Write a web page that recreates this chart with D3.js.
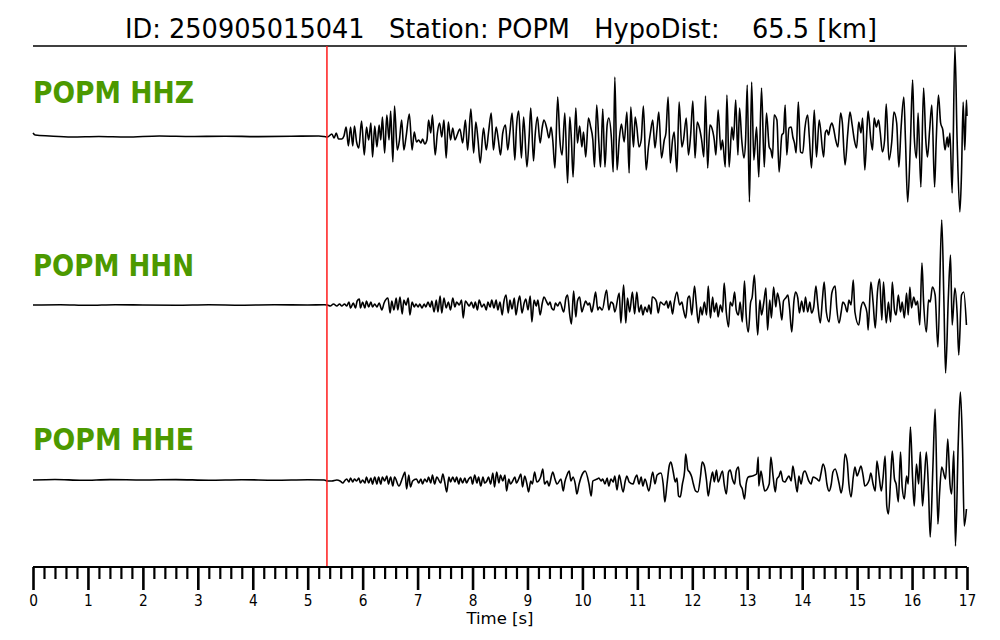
<!DOCTYPE html>
<html><head><meta charset="utf-8">
<script src="https://cdn.jsdelivr.net/npm/d3@7"></script>
<style>body{margin:0;background:#fff}svg{display:block}text{font-family:"DejaVu Sans",sans-serif}</style>
</head><body>
<svg id="c" width="1000" height="640"></svg>
<script>
// ---------- data ----------
const title = "ID: 250905015041   Station: POPM   HypoDist:    65.5 [km]";
const channels = ["POPM HHZ", "POPM HHN", "POPM HHE"];
const pickTime = 5.35;               // P-arrival marker [s]
const timeDomain = [0, 17];
const majorTicks = [0,1,2,3,4,5,6,7,8,9,10,11,12,13,14,15,16,17];
const tickLabels = ["0","1","2","3","4","5","6","7","8","9","10","11","12","13","14","15","16","17"];
const minorStep = 0.2;
const xLabel = "Time [s]";

// [time s, relative amplitude] extrema
const hhz = [[0,3],[0.04,1],[0.3,0],[0.7,-1],[1.2,-0.5],[1.7,-1],[2.3,0],[2.9,-0.5],[3.5,-0.2],[4.1,-0.6],[4.7,-0.3],[5.2,0],[5.3,-0.5],
[5.36,-1],[5.44,2],[5.48,-2],[5.52,3],[5.56,-3],[5.62,-3],[5.66,0],[5.70,9],[5.74,-10],[5.78,9],[5.82,-10],[5.85,10],[5.89,-6],[5.93,-12],[5.98,15],[6.03,-19],[6.07,9],[6.11,-4],[6.15,13],[6.18,-21],[6.22,10],[6.26,-11],[6.30,11],[6.33,-4],[6.36,19],[6.40,-17],[6.44,21],[6.48,-4],[6.51,25],[6.55,-26],[6.58,30],[6.63,-14],[6.67,-4],[6.71,16],[6.75,-14],[6.79,-1],[6.85,22],[6.90,-14],[6.94,4],[6.98,-6],[7.02,-4],[7.06,-7],[7.09,-3],[7.13,-8],[7.17,-4],[7.20,16],[7.24,3],[7.27,21],[7.32,-19],[7.36,3],[7.40,13],[7.44,-1],[7.48,16],[7.52,-22],[7.56,14],[7.60,-4],[7.64,8],[7.68,-4],[7.72,1],[7.77,7],[7.82,-7],[7.87,16],[7.91,-14],[7.97,27],[8.02,-17],[8.06,14],[8.10,-4],[8.14,-27],[8.20,8],[8.25,-14],[8.29,3],[8.34,23],[8.38,-14],[8.43,9],[8.47,-4],[8.51,-19],[8.55,3],[8.60,11],[8.64,-14],[8.68,4],[8.72,23],[8.77,-24],[8.80,9],[8.84,25],[8.89,-22],[8.93,19],[8.99,-31],[9.03,-1],[9.06,28],[9.11,-25],[9.14,1],[9.18,19],[9.23,-7],[9.27,9],[9.30,16],
[9.35,8],[9.39,-2],[9.43,9],[9.46,-4],[9.50,-32],[9.55,39],[9.59,-4],[9.63,-19],[9.68,23],[9.73,-47],[9.77,19],[9.80,-4],[9.83,-41],[9.88,28],[9.91,-7],[9.95,10],[9.99,-11],[10.02,4],[10.06,-21],[10.11,18],[10.15,9],[10.19,-4],[10.22,-31],[10.26,31],[10.30,-7],[10.33,-31],[10.37,27],[10.41,-31],[10.45,11],[10.48,18],[10.53,-4],[10.56,-36],[10.59,59],[10.63,-34],[10.67,-4],[10.71,12],[10.76,-6],[10.81,24],[10.85,-37],[10.88,29],[10.93,-11],[10.96,19],[10.99,9],[11.03,-11],[11.07,-4],[11.11,30],[11.16,-34],[11.20,-12],[11.24,4],[11.28,16],[11.32,-12],[11.36,8],[11.39,24],[11.44,-22],[11.49,-4],[11.52,3],[11.56,39],[11.60,-27],[11.64,-4],[11.67,4],[11.72,-36],[11.76,34],[11.81,-11],[11.84,-4],[11.89,18],[11.93,-19],[11.97,1],[12.01,35],[12.05,-22],[12.09,14],[12.13,8],[12.17,-4],[12.21,-21],[12.24,40],[12.28,-32],[12.32,11],[12.35,9],[12.40,-4],[12.43,-19],[12.47,26],[12.52,-14],[12.55,-4],[12.60,-31],[12.63,41],[12.67,-31],[12.72,9],[12.75,-4],[12.79,36],[12.83,-19],[12.86,28],[12.90,-4],[12.94,-22],[12.97,-4],[13.00,51],[13.04,-66],[13.08,54],[13.12,-24],
[13.17,9],[13.21,-41],[13.26,48],[13.31,-31],[13.35,23],[13.40,-11],[13.43,-14],[13.46,-22],[13.49,21],[13.54,16],[13.58,-36],[13.63,1],[13.66,3],[13.69,31],[13.72,-19],[13.76,8],[13.80,9],[13.83,-1],[13.86,-7],[13.89,-17],[13.93,34],[13.97,-16],[14.01,-17],[14.05,8],[14.10,21],[14.13,-1],[14.17,-32],[14.22,26],[14.26,-21],[14.31,16],[14.39,-21],[14.42,3],[14.45,6],[14.48,1],[14.51,9],[14.54,13],[14.57,8],[14.61,-4],[14.65,-11],[14.70,23],[14.73,14],[14.78,-29],[14.83,3],[14.87,24],[14.91,11],[14.95,-4],[14.99,-12],[15.03,14],[15.07,3],[15.10,18],[15.14,-34],[15.18,8],[15.20,25],[15.25,-4],[15.28,-14],[15.31,18],[15.35,9],[15.39,16],[15.42,4],[15.46,-16],[15.50,-4],[15.53,32],[15.58,-24],[15.63,-6],[15.67,24],[15.72,13],[15.76,-31],[15.80,8],[15.85,39],[15.88,-4],[15.92,-66],[15.97,-7],[16.01,56],[16.04,-1],[16.08,-22],[16.11,23],[16.16,-51],[16.21,48],[16.25,-4],[16.28,-21],[16.32,6],[16.36,31],[16.41,-51],[16.44,-4],[16.48,41],[16.52,13],[16.56,6],[16.60,-14],[16.64,-1],[16.66,-11],[16.69,3],[16.73,-57],[16.78,89],[16.82,-4],[16.87,-76],[16.90,-37],[16.93,34],[16.96,-14],[16.99,36],[17.00,20]];

const hhn = [[0,0],[0.5,0.3],[1.0,-0.3],[1.5,0.3],[2.0,0],[2.6,-0.3],[3.2,0.2],[3.8,-0.2],[4.4,0.2],[5.0,0],[5.3,0.3],
[5.36,0],[5.41,-1],[5.47,1],[5.53,-1],[5.58,1],[5.62,-1],[5.67,1],[5.71,-1],[5.75,3],[5.78,-3],[5.83,2],[5.87,-3],[5.90,4],[5.94,6],[5.96,-3],[6.00,3],[6.04,-3],[6.07,4],[6.11,-2],[6.15,3],[6.18,-2],[6.22,1],[6.26,-2],[6.30,2],[6.35,-5],[6.39,2],[6.46,7],[6.50,-8],[6.53,4],[6.57,-5],[6.61,7],[6.64,-5],[6.68,8],[6.72,-9],[6.75,5],[6.79,0],[6.83,7],[6.86,-10],[6.90,3],[6.94,-2],[6.97,1],[7.01,-2],[7.04,1],[7.08,-3],[7.12,1],[7.15,-2],[7.19,3],[7.23,-2],[7.26,4],[7.30,-7],[7.34,5],[7.37,-7],[7.41,9],[7.44,-8],[7.48,7],[7.52,-3],[7.56,3],[7.60,-5],[7.64,7],[7.68,-2],[7.71,3],[7.76,0],[7.80,5],[7.83,-13],[7.87,4],[7.91,1],[7.94,-1],[7.98,3],[8.02,-3],[8.05,3],[8.09,-5],[8.12,5],[8.17,-2],[8.21,1],[8.25,-5],[8.28,3],[8.32,-2],[8.35,5],[8.39,-3],[8.43,5],[8.46,-5],[8.50,3],[8.54,-10],[8.57,3],[8.61,10],[8.65,-8],[8.68,5],[8.72,-4],[8.76,7],[8.79,-10],[8.83,3],[8.86,9],[8.90,-8],[8.94,2],[8.97,6],[9.01,-5],[9.05,9],[9.08,-17],[9.12,5],[9.16,-1],[9.19,5],[9.23,-10],[9.27,2],[9.30,8],
[9.35,3],[9.38,0],[9.41,3],[9.44,-3],[9.48,-5],[9.51,2],[9.55,-1],[9.59,3],[9.66,-7],[9.70,7],[9.73,10],[9.77,-10],[9.80,-19],[9.84,14],[9.88,-12],[9.91,4],[9.95,8],[9.99,-7],[10.02,-2],[10.06,4],[10.10,0],[10.13,2],[10.17,-7],[10.20,0],[10.24,13],[10.28,-5],[10.31,-2],[10.36,-5],[10.44,15],[10.48,-5],[10.52,3],[10.56,1],[10.59,-7],[10.67,12],[10.70,-18],[10.75,20],[10.79,-18],[10.82,7],[10.86,-7],[10.91,13],[10.95,-9],[10.99,13],[11.03,-7],[11.07,0],[11.10,-10],[11.14,-2],[11.18,-7],[11.21,0],[11.25,-9],[11.27,8],[11.31,7],[11.35,3],[11.38,-8],[11.42,3],[11.49,0],[11.53,4],[11.56,-3],[11.60,4],[11.64,-9],[11.67,2],[11.72,13],[11.77,0],[11.81,3],[11.84,-5],[11.88,-13],[11.92,7],[11.95,9],[11.99,-10],[12.04,19],[12.07,3],[12.11,-18],[12.15,-2],[12.18,-10],[12.22,3],[12.26,-10],[12.29,19],[12.33,-13],[12.37,8],[12.40,-7],[12.44,2],[12.47,-12],[12.51,0],[12.55,-7],[12.58,22],[12.62,-8],[12.66,-22],[12.69,3],[12.73,-1],[12.77,13],[12.80,-5],[12.84,-10],[12.87,3],[12.91,-17],[12.95,24],[12.98,-10],[13.02,-27],[13.06,2],[13.09,8],[13.13,30],
[13.19,-30],[13.23,5],[13.26,-10],[13.30,2],[13.34,17],[13.37,-25],[13.41,5],[13.44,-13],[13.48,18],[13.52,-2],[13.55,12],[13.59,2],[13.63,-15],[13.66,4],[13.70,7],[13.74,10],[13.77,-3],[13.81,-27],[13.85,4],[13.88,13],[13.92,7],[13.95,-8],[13.99,4],[14.03,-7],[14.06,8],[14.10,-7],[14.14,3],[14.17,-8],[14.21,-2],[14.25,19],[14.28,3],[14.33,-18],[14.37,7],[14.40,23],[14.44,-7],[14.49,-17],[14.54,12],[14.60,19],[14.63,-3],[14.67,-18],[14.71,-7],[14.74,3],[14.78,0],[14.82,-7],[14.85,5],[14.89,0],[14.93,25],[14.96,-7],[15.03,-20],[15.07,-3],[15.11,3],[15.14,0],[15.18,-8],[15.20,-25],[15.25,23],[15.29,3],[15.33,-23],[15.37,13],[15.41,26],[15.45,-15],[15.48,23],[15.53,-18],[15.57,3],[15.61,-17],[15.64,23],[15.68,-5],[15.71,-10],[15.75,10],[15.79,-7],[15.82,3],[15.86,-13],[15.90,12],[15.93,-10],[15.96,18],[15.99,-3],[16.03,8],[16.07,0],[16.10,4],[16.14,-20],[16.18,42],[16.21,3],[16.26,-27],[16.30,5],[16.33,3],[16.37,18],[16.42,10],[16.47,-42],[16.54,85],[16.58,3],[16.61,-68],[16.66,7],[16.70,50],[16.73,-20],[16.78,17],[16.82,-8],[16.85,-50],[16.90,10],[16.94,13],[16.99,-20]];

const hhe = [[0,0],[0.4,0.5],[0.9,-0.3],[1.4,0.4],[2.0,0],[2.6,0.4],[3.2,-0.2],[3.8,0.3],[4.4,-0.2],[5.0,0.3],[5.3,0],
[5.36,-1],[5.44,-1],[5.53,0],[5.59,-1],[5.64,-3],[5.67,-1],[5.71,1],[5.75,-2],[5.78,2],[5.82,-2],[5.85,1],[5.89,-1],[5.93,2],[5.96,-3],[6.00,0],[6.04,-3],[6.07,3],[6.11,-3],[6.15,2],[6.18,-4],[6.22,3],[6.26,-4],[6.29,3],[6.33,-4],[6.36,3],[6.40,-1],[6.44,4],[6.47,-4],[6.51,3],[6.55,-6],[6.58,3],[6.66,-6],[6.73,3],[6.77,8],[6.80,-9],[6.84,5],[6.87,-7],[6.91,-1],[6.98,1],[7.02,-3],[7.06,1],[7.09,-4],[7.13,1],[7.17,-2],[7.20,3],[7.24,-3],[7.27,5],[7.31,-4],[7.35,3],[7.42,-3],[7.46,6],[7.49,-1],[7.53,-12],[7.57,3],[7.60,-2],[7.64,3],[7.68,-2],[7.71,3],[7.75,-4],[7.78,2],[7.82,-3],[7.86,2],[7.89,-3],[7.93,1],[7.97,3],[8.00,-4],[8.04,5],[8.08,-3],[8.11,3],[8.15,-6],[8.19,3],[8.22,-3],[8.26,-1],[8.29,3],[8.33,-4],[8.37,7],[8.40,-7],[8.44,8],[8.48,-3],[8.51,5],[8.55,-1],[8.59,5],[8.62,-11],[8.66,1],[8.69,-4],[8.73,-1],[8.77,3],[8.80,-3],[8.84,1],[8.88,6],[8.91,-7],[8.95,4],[8.99,-4],[9.02,-12],[9.06,-1],[9.09,-4],[9.13,8],[9.17,-2],[9.24,3],[9.28,11],[9.31,-4],
[9.36,-1],[9.39,-6],[9.46,8],[9.50,1],[9.54,-4],[9.61,1],[9.65,-11],[9.68,-2],[9.72,5],[9.76,9],[9.79,-1],[9.83,3],[9.87,-4],[9.90,-14],[9.94,-4],[10.01,7],[10.05,9],[10.12,-4],[10.16,-16],[10.19,-1],[10.27,1],[10.30,2],[10.34,-1],[10.37,1],[10.41,-4],[10.45,2],[10.48,-6],[10.52,1],[10.56,-2],[10.59,4],[10.63,-10],[10.67,5],[10.74,-12],[10.78,-1],[10.81,4],[10.85,-2],[10.92,-4],[10.96,2],[10.99,5],[11.03,-4],[11.07,3],[11.10,-6],[11.14,1],[11.21,-11],[11.28,8],[11.32,-4],[11.36,5],[11.43,7],[11.47,-4],[11.50,-22],[11.54,-4],[11.58,14],[11.61,18],[11.65,9],[11.69,-2],[11.72,2],[11.75,-16],[11.78,-17],[11.82,-4],[11.86,9],[11.88,26],[11.92,10],[11.95,8],[11.99,3],[12.02,-4],[12.06,-11],[12.10,-12],[12.15,4],[12.18,18],[12.22,14],[12.26,-1],[12.29,-16],[12.33,-2],[12.37,8],[12.40,-2],[12.44,10],[12.47,-2],[12.55,9],[12.58,-4],[12.62,-14],[12.66,8],[12.69,10],[12.73,1],[12.77,-4],[12.80,9],[12.84,13],[12.87,-4],[12.91,-9],[12.95,-19],[12.98,-4],[13.02,3],[13.09,4],[13.17,6],[13.20,23],
[13.21,-6],[13.25,9],[13.29,-4],[13.32,-11],[13.40,-4],[13.43,23],[13.47,4],[13.51,-12],[13.54,1],[13.58,4],[13.61,9],[13.65,-1],[13.69,-2],[13.72,1],[13.76,4],[13.80,-1],[13.83,14],[13.87,1],[13.91,-12],[13.94,4],[13.98,-4],[14.02,7],[14.05,9],[14.12,-1],[14.16,-4],[14.20,3],[14.27,1],[14.31,-1],[14.34,6],[14.38,16],[14.42,9],[14.45,-4],[14.49,-11],[14.53,-4],[14.56,8],[14.60,11],[14.67,-3],[14.71,-13],[14.74,-4],[14.78,26],[14.82,18],[14.85,-4],[14.89,-17],[14.93,3],[14.96,13],[15.00,4],[15.03,8],[15.07,14],[15.11,4],[15.14,-6],[15.22,0],[15.25,7],[15.29,-4],[15.33,-11],[15.36,19],[15.40,4],[15.44,-11],[15.47,1],[15.51,24],[15.54,-26],[15.57,-34],[15.61,1],[15.64,29],[15.68,1],[15.71,-4],[15.75,-22],[15.79,28],[15.82,-7],[15.86,-19],[15.90,4],[15.93,-4],[15.97,53],[16.01,1],[16.04,-26],[16.08,16],[16.12,-4],[16.15,28],[16.19,-26],[16.22,-4],[16.26,28],[16.30,-11],[16.33,-57],[16.38,14],[16.42,71],[16.47,-44],[16.50,-14],[16.54,13],[16.61,1],[16.65,41],[16.69,-4],[16.72,-14],[16.76,29],[16.79,-66],[16.84,36],[16.88,88],[16.92,29],[16.95,-46],[16.99,-29]];

const traces = [hhz, hhn, hhe];

// ---------- layout ----------
const svg = d3.select("#c");
const x = d3.scaleLinear().domain(timeDomain).range([33, 967]);
const baselines = [136, 305, 480];
const labelBaselines = [103, 276, 450];
const halfH = 88;
const ampDomain = [-88, 88];
const green = "#4c9900";

// title
svg.append("text").attr("x", 501).attr("y", 38).attr("text-anchor", "middle")
  .attr("font-size", 27).attr("fill", "#000").style("white-space", "pre")
  .attr("textLength", 752).attr("lengthAdjust", "spacingAndGlyphs").text(title);

// top frame line
svg.append("line").attr("x1", x(0)).attr("x2", x(17)).attr("y1", 46).attr("y2", 46)
  .attr("stroke", "#000").attr("stroke-width", 1.6);

// traces
traces.forEach((tr, i) => {
  const y = d3.scaleLinear().domain(ampDomain).range([baselines[i] + halfH, baselines[i] - halfH]);
  const line = d3.line().x(d => x(d[0])).y(d => y(d[1])).curve(d3.curveMonotoneX);
  svg.append("path").datum(tr).attr("d", line).attr("fill", "none")
    .attr("stroke", "#000").attr("stroke-width", 1.6).attr("stroke-linejoin", "round");
  svg.append("text").attr("x", 33).attr("y", labelBaselines[i])
    .attr("font-size", 31).attr("font-weight", "bold").attr("fill", green)
    .attr("textLength", 161).attr("lengthAdjust", "spacingAndGlyphs").text(channels[i]);
});

// pick marker
svg.append("line").attr("x1", x(pickTime)).attr("x2", x(pickTime)).attr("y1", 46).attr("y2", 567)
  .attr("stroke", "#ff1a1a").attr("stroke-width", 1.5);

// axis
const minorTicks = d3.range(0, 17 + 1e-6, minorStep).filter(v => Math.abs(v - Math.round(v)) > 1e-6);
const gMinor = svg.append("g").attr("transform", "translate(0,567)")
  .call(d3.axisBottom(x).tickValues(minorTicks).tickSize(12).tickSizeOuter(0).tickFormat(""));
gMinor.select(".domain").remove();
gMinor.selectAll(".tick line").attr("stroke-width", 2.2);

const gMajor = svg.append("g").attr("transform", "translate(0,567)")
  .call(d3.axisBottom(x).tickValues(majorTicks).tickSize(23).tickSizeOuter(0).tickPadding(5)
    .tickFormat((d, i) => tickLabels[i]));
gMajor.select(".domain").attr("stroke-width", 2.2).attr("d", `M${x(0)},0H${x(17)}`);
gMajor.selectAll(".tick line").attr("stroke-width", 2.6);
gMajor.selectAll(".tick text").attr("font-size", 16).attr("font-family", "DejaVu Sans")
  .attr("fill", "#000").attr("transform", "scale(0.86,1)");

svg.append("text").attr("x", 500).attr("y", 624).attr("text-anchor", "middle")
  .attr("font-size", 16.5).attr("fill", "#000")
  .text(xLabel);
</script>
</body></html>
